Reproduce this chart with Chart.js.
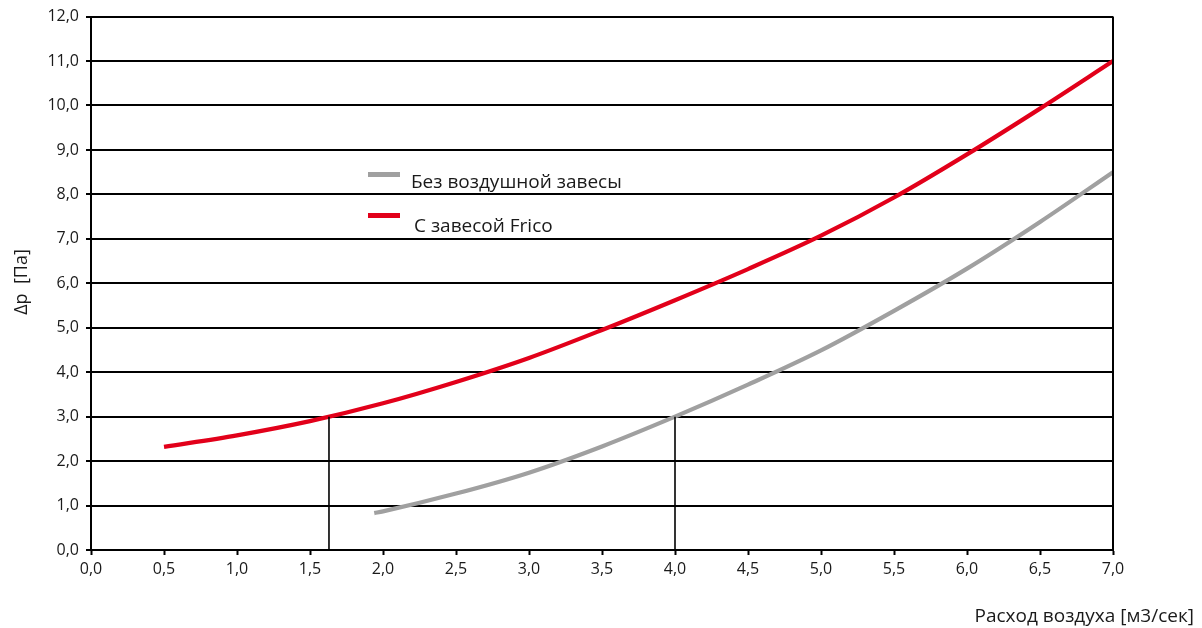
<!DOCTYPE html>
<html>
<head>
<meta charset="utf-8">
<script src="https://cdn.jsdelivr.net/npm/chart.js@4.4.0/dist/chart.umd.min.js"></script>
<style>
html,body{margin:0;padding:0;background:#fff;}
#wrap{width:1202px;height:628px;position:relative;}
</style>
</head>
<body>
<div id="wrap"><canvas id="c" width="1202" height="628"></canvas></div>
<script>
// Data
const redX = [0.5, 1.0, 1.5, 2.0, 2.5, 3.0, 3.5, 4.0, 4.5, 5.0, 5.5, 6.0, 6.5, 7.0];
const redY = [2.32, 2.58, 2.9, 3.3, 3.78, 4.32, 4.95, 5.62, 6.32, 7.07, 7.93, 8.9, 9.93, 11.0];
const grayX = [1.94, 2.0, 2.5, 3.0, 3.5, 4.0, 4.5, 5.0, 5.5, 6.0, 6.5, 7.0];
const grayY = [0.83, 0.87, 1.27, 1.74, 2.33, 3.0, 3.72, 4.49, 5.38, 6.33, 7.38, 8.5];
const refX = [1.63, 4.0];
const refTop = 3.0;
const labels = ['Без воздушной завесы', 'С завесой Frico'];
const xTitle = 'Расход воздуха [м3/сек]';
const yTitle = 'Δp  [Па]';
const xMin = 0, xMax = 7, xStep = 0.5;
const yMin = 0, yMax = 12, yStep = 1;

const FONT = '"Open Sans", "Noto Sans", sans-serif';
const TXT = '#1a1a1a';
const fmt = v => Number(v).toFixed(1).replace('.', ',');
const pts = (xs, ys) => xs.map((x, i) => ({x: x, y: ys[i]}));

const datasets = [
  ...refX.map(x => ({
    label: '_ref', data: [{x: x, y: 0}, {x: x, y: refTop}],
    borderColor: '#000', borderWidth: 1.6, pointRadius: 0, tension: 0
  })),
  {label: labels[0], data: pts(grayX, grayY), borderColor: '#a0a0a0', borderWidth: 4.2,
   pointRadius: 0, cubicInterpolationMode: 'monotone'},
  {label: labels[1], data: pts(redX, redY), borderColor: '#e2001a', borderWidth: 4.2,
   pointRadius: 0, cubicInterpolationMode: 'monotone'}
];

const extras = {
  id: 'extras',
  afterDraw(chart) {
    const ctx = chart.ctx, a = chart.chartArea;
    ctx.save();
    // right border
    ctx.strokeStyle = '#000'; ctx.lineWidth = 2;
    ctx.beginPath(); ctx.moveTo(a.right, a.top); ctx.lineTo(a.right, a.bottom); ctx.stroke();
    // legend
    const items = chart.data.datasets.filter(d => d.label !== '_ref');
    const lineY = [174.5, 215.5];
    const textY = [188, 232];
    const textX = [411, 414];
    items.forEach((d, i) => {
      ctx.fillStyle = d.borderColor;
      ctx.fillRect(368, lineY[i] - 2.5, 32, 5);
      ctx.fillStyle = TXT;
      ctx.font = '19px ' + FONT;
      ctx.textBaseline = 'alphabetic'; ctx.textAlign = 'left';
      ctx.fillText(d.label, textX[i], textY[i]);
    });
    // axis titles
    ctx.fillStyle = TXT;
    ctx.font = '19px ' + FONT;
    ctx.textAlign = 'right'; ctx.textBaseline = 'alphabetic';
    ctx.fillText(xTitle, 1194, 622);
    ctx.translate(27, 282); ctx.rotate(-Math.PI / 2);
    ctx.textAlign = 'center';
    ctx.font = '18px ' + FONT;
    ctx.fillText(yTitle, 0, 0);
    ctx.restore();
  }
};

new Chart(document.getElementById('c'), {
  type: 'line',
  data: {datasets: datasets},
  options: {
    responsive: false, animation: false, devicePixelRatio: 1,
    layout: {padding: {top: 15, right: 89, left: 0, bottom: 0}},
    plugins: {legend: {display: false}, tooltip: {enabled: false}},
    scales: {
      x: {
        type: 'linear', min: xMin, max: xMax,
        afterFit: s => { s.height = 78; },
        afterBuildTicks: s => { s.ticks = []; for (let v = xMin; v <= xMax + 1e-9; v += xStep) s.ticks.push({value: +v.toFixed(2)}); },
        ticks: {callback: fmt, color: TXT, font: {family: FONT, size: 16}, padding: 5, maxRotation: 0},
        grid: {drawOnChartArea: false, drawTicks: true, tickLength: 5, tickColor: '#000', tickWidth: 2},
        border: {color: '#000', width: 2}
      },
      y: {
        type: 'linear', min: yMin, max: yMax,
        afterFit: s => { s.width = 91; },
        afterBuildTicks: s => { s.ticks = []; for (let v = yMin; v <= yMax + 1e-9; v += yStep) s.ticks.push({value: v}); },
        ticks: {callback: fmt, color: TXT, font: {family: FONT, size: 16}, padding: 7},
        grid: {color: '#000', lineWidth: 2, tickLength: 5, tickColor: '#000', tickWidth: 2},
        border: {color: '#000', width: 2}
      }
    }
  },
  plugins: [extras]
});
</script>
</body>
</html>
